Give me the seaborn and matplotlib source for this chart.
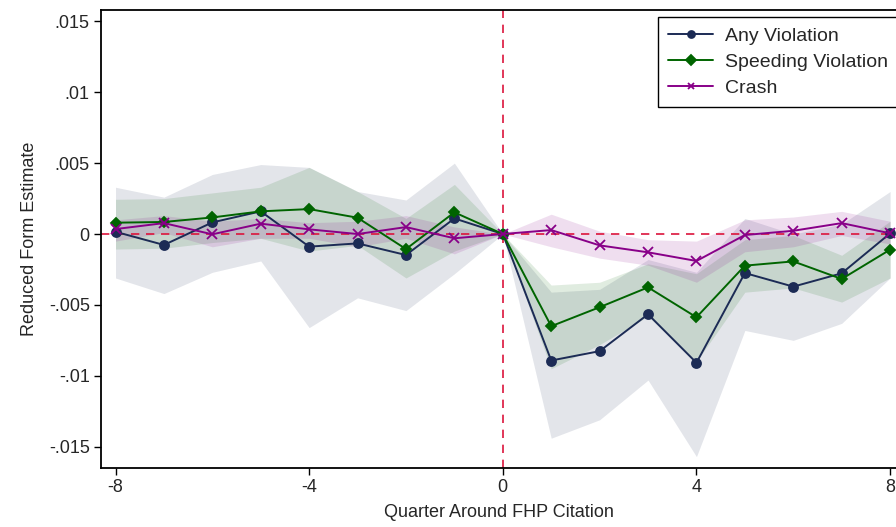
import numpy as np
import pandas as pd
import matplotlib
matplotlib.use('Agg')
import matplotlib.pyplot as plt
import seaborn as sns

# event-study estimates
quarters = list(range(-8, 9))

any_est = [0.00016, -0.00077, 0.00082, 0.0016, -0.00089, -0.00066, -0.00148, 0.0011, 0.0,
           -0.00892, -0.00826, -0.00566, -0.00908, -0.00275, -0.00371, -0.00277, 0.00005]
any_lo = [-0.0031, -0.0042, -0.0027, -0.0019, -0.0066, -0.0045, -0.0054, -0.0028, 0.0,
          -0.0144, -0.0131, -0.0103, -0.0157, -0.0068, -0.0075, -0.0063, -0.0031]
any_hi = [0.0033, 0.0026, 0.0042, 0.0049, 0.0047, 0.0030, 0.0024, 0.0050, 0.0,
          -0.0041, -0.0039, -0.0018, -0.0027, 0.0011, 0.0000, 0.0007, 0.0030]

speed_est = [0.0008, 0.00085, 0.00117, 0.0016, 0.00176, 0.00115, -0.00106, 0.00153, 0.0,
             -0.0065, -0.00516, -0.00376, -0.00587, -0.00223, -0.00193, -0.00317, -0.0011]
speed_lo = [-0.00106, -0.0010, -0.0006, -0.0003, -0.0012, -0.0008, -0.0031, -0.0012, 0.0,
            -0.0095, -0.0078, -0.0058, -0.0090, -0.0041, -0.0038, -0.0048, -0.0031]
speed_hi = [0.00245, 0.0025, 0.0029, 0.0033, 0.0047, 0.0030, 0.0011, 0.0035, 0.0,
            -0.0036, -0.0034, -0.0021, -0.0028, -0.0004, -0.0001, -0.0015, 0.0009]

crash_est = [0.00035, 0.00077, -0.00002, 0.00073, 0.00033, 0.0, 0.00049, -0.0003, 0.0,
             0.00028, -0.0008, -0.00129, -0.0019, -0.00007, 0.00023, 0.00077, 0.00005]
crash_lo = [-0.0005, 0.0001, -0.0009, -0.0003, -0.0003, -0.0009, -0.0003, -0.0014, 0.0,
            -0.0009, -0.0017, -0.0022, -0.0034, -0.00125, -0.0009, -0.0001, -0.0007]
crash_hi = [0.0010, 0.0013, 0.0009, 0.0011, 0.0008, 0.0009, 0.0013, 0.0005, 0.0,
            0.0014, 0.0002, -0.0004, -0.0005, 0.0010, 0.0012, 0.0016, 0.0009]

series_names = ['Any Violation', 'Speeding Violation', 'Crash']
colors = {'Any Violation': '#1c2b55', 'Speeding Violation': '#006400', 'Crash': '#880088'}
markers = {'Any Violation': 'o', 'Speeding Violation': 'D', 'Crash': 'x'}
msize = {'Any Violation': 6.5, 'Speeding Violation': 5.5, 'Crash': 7}

df = pd.concat([
    pd.DataFrame({'quarter': quarters, 'est': any_est, 'lo': any_lo, 'hi': any_hi, 'series': 'Any Violation'}),
    pd.DataFrame({'quarter': quarters, 'est': speed_est, 'lo': speed_lo, 'hi': speed_hi, 'series': 'Speeding Violation'}),
    pd.DataFrame({'quarter': quarters, 'est': crash_est, 'lo': crash_lo, 'hi': crash_hi, 'series': 'Crash'}),
])

sns.set_style('white')
plt.rcParams['font.family'] = ['Liberation Sans', 'DejaVu Sans']

fig = plt.figure(figsize=(8.96, 5.27), dpi=100)
ax = fig.add_axes([0.1127, 0.112, 0.8883, 0.869])

band_alpha = {'Any Violation': 0.12, 'Speeding Violation': 0.12, 'Crash': 0.13}
for name in series_names:
    sub = df[df['series'] == name]
    ax.fill_between(sub['quarter'], sub['lo'], sub['hi'], color=colors[name],
                    alpha=band_alpha[name], linewidth=0)

ax.axhline(0, color='#dc143c', linestyle=(0, (5, 4)), linewidth=1.2, zorder=1)
ax.axvline(0, color='#dc143c', linestyle=(0, (5, 4)), linewidth=1.2, zorder=1)

for name in series_names:
    sub = df[df['series'] == name]
    sns.lineplot(data=sub, x='quarter', y='est', color=colors[name], marker=markers[name],
                 markersize=msize[name], markeredgewidth=1.3,
                 markeredgecolor=colors[name], linewidth=1.4, label=name, ax=ax, zorder=3)

ax.set_xlim(-8.3, 8.14)
ax.set_ylim(-0.0165, 0.0158)
ax.set_xticks([-8, -4, 0, 4, 8])
ax.set_xticklabels(['-8', '-4', '0', '4', '8'], fontsize=13)
yt = [-0.015, -0.01, -0.005, 0, 0.005, 0.01, 0.015]
ax.set_yticks(yt)
ax.set_yticklabels(['-.015', '-.01', '-.005', '0', '.005', '.01', '.015'], fontsize=13)
ax.tick_params(axis='both', direction='out', length=5, width=1, color='black',
               left=True, bottom=True, pad=3)

for side in ['left', 'bottom', 'top', 'right']:
    ax.spines[side].set_color('black')
    ax.spines[side].set_linewidth(1.3)

ax.set_xlabel('Quarter Around FHP Citation', fontsize=13, labelpad=6)
ax.set_ylabel('Reduced Form Estimate', fontsize=13, labelpad=8)

leg = ax.legend(loc='upper right', bbox_to_anchor=(1.002, 0.985), borderaxespad=0,
                fontsize=14, frameon=True, fancybox=False, edgecolor='black', framealpha=1,
                handlelength=2.3, handletextpad=0.6, borderpad=0.55, labelspacing=0.42)
leg.get_frame().set_linewidth(1)
for h in leg.legend_handles:
    h.set_markersize(5)

fig.savefig('out.png', dpi=100)
